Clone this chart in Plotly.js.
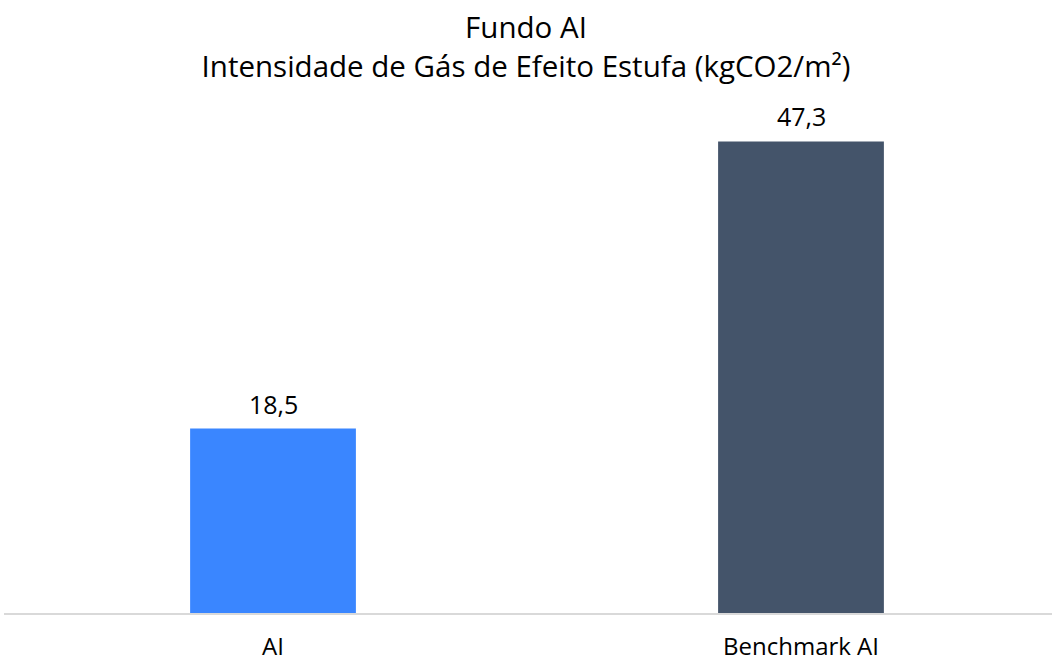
<!DOCTYPE html>
<html>
<head>
<meta charset="utf-8">
<script src="https://cdn.plot.ly/plotly-3.0.1.min.js"></script>
<style>html,body{margin:0;padding:0;background:#fff;}#chart{width:1052px;height:661px;}</style>
</head>
<body>
<div id="chart"></div>
<script>
var categories = ["AI", "Benchmark AI"];
var values = [18.5, 47.3];
var valueLabels = ["18,5", "47,3"];
var barColors = ["#3a86ff", "#44546a"];

var trace = {
  type: "bar",
  x: categories,
  y: values,
  marker: {color: barColors},
  width: 0.314,
  hoverinfo: "skip"
};

var annotations = categories.map(function (c, i) {
  return {
    x: c, y: values[i], xref: "x", yref: "y",
    text: valueLabels[i], showarrow: false,
    xanchor: "center", yanchor: "bottom", yshift: 6,
    font: {family: "Open Sans, sans-serif", size: 25, color: "#000"}
  };
});

var layout = {
  width: 1052,
  height: 661,
  margin: {l: 4, r: 0, t: 100, b: 48},
  paper_bgcolor: "#fff",
  plot_bgcolor: "#fff",
  showlegend: false,
  annotations: annotations,
  title: {
    text: "Fundo AI<br>Intensidade de Gás de Efeito Estufa (kgCO2/m²)",
    font: {family: "Open Sans, sans-serif", size: 29.5, color: "#000"},
    x: 0.5, xanchor: "center",
    y: 0.942, yanchor: "top"
  },
  xaxis: {
    type: "category",
    range: [-0.5095, 1.4754],
    showline: true,
    linecolor: "#d9d9d9",
    linewidth: 2,
    showgrid: false,
    zeroline: false,
    ticks: "outside",
    ticklen: 11,
    tickcolor: "rgba(0,0,0,0)",
    tickfont: {family: "Open Sans, sans-serif", size: 24, color: "#000"},
    fixedrange: true
  },
  yaxis: {
    range: [0, 51.45],
    visible: false,
    showgrid: false,
    zeroline: false,
    fixedrange: true
  }
};

Plotly.newPlot("chart", [trace], layout, {displayModeBar: false, staticPlot: true});
</script>
</body>
</html>
